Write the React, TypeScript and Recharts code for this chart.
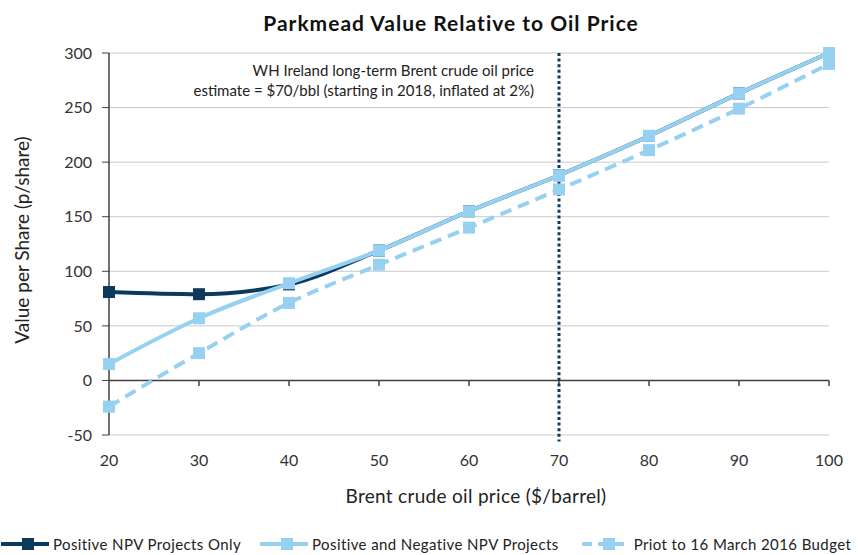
import { LineChart, Line, XAxis, YAxis, CartesianGrid, ReferenceLine } from 'recharts';

const prices = [20, 30, 40, 50, 60, 70, 80, 90, 100];
const positiveOnly = [81, 79, 88, 119, 155, 188, 224, 263, 300];
const posAndNeg = [15, 57, 89, 119, 155, 188, 224, 263, 300];
const priorBudget = [-24, 25, 71, 106, 140, 175, 211, 249, 290];
const yTicks = [-50, 0, 50, 100, 150, 200, 250, 300];
const estimatePrice = 70;

const seriesNames = [
  'Positive NPV Projects Only',
  'Positive and Negative NPV Projects',
  'Priot to 16 March 2016 Budget',
];

const navy = '#0b3a5c';
const sky = '#97d1f1';
const font = 'Lato, "Open Sans", sans-serif';

const data = prices.map((p, i) => ({
  price: p,
  positiveOnly: positiveOnly[i],
  posAndNeg: posAndNeg[i],
  priorBudget: priorBudget[i],
}));

const squareDot = (color: string) => (props: any) => {
  const { cx, cy, index } = props;
  if (cx == null || cy == null) return <g key={index} />;
  return <rect key={index} x={cx - 6} y={cy - 6} width={12} height={12} fill={color} />;
};

function LegendIcon({ color, dashed }: { color: string; dashed?: boolean }) {
  return (
    <svg width={50} height={14} style={{ marginRight: 3, flexShrink: 0 }}>
      <line
        x1={1}
        y1={7}
        x2={49}
        y2={7}
        stroke={color}
        strokeWidth={4}
        strokeDasharray={dashed ? '10 6' : undefined}
      />
      <rect x={22} y={1} width={12} height={12} fill={color} />
    </svg>
  );
}

export default function App() {
  const tickStyle = { fontSize: 16, fill: '#333', fontFamily: font };
  return (
    <div style={{ position: 'absolute', left: 0, top: 0, width: 858, height: 555, background: '#fff', fontFamily: font }}>
      <LineChart width={858} height={555} data={data} margin={{ top: 53, right: 29, bottom: 0, left: 39 }}>
        <CartesianGrid horizontal vertical={false} stroke="#c9c9c9" />
        <XAxis
          dataKey="price"
          type="number"
          domain={[20, 100]}
          ticks={prices}
          axisLine={false}
          tickLine={false}
          tickMargin={14}
          height={120}
          tick={tickStyle}
        />
        <YAxis
          type="number"
          domain={[-50, 300]}
          ticks={yTicks}
          width={70}
          axisLine={{ stroke: '#404040', strokeWidth: 1.5 }}
          tickLine={{ stroke: '#404040' }}
          tickSize={7}
          tickMargin={10}
          tick={tickStyle}
        />
        <ReferenceLine y={0} stroke="#404040" strokeWidth={1.5} />
        {prices.slice(1).map((p) => (
          <ReferenceLine
            key={p}
            segment={[
              { x: p, y: 0 },
              { x: p, y: -5 },
            ]}
            stroke="#404040"
            strokeWidth={1.5}
          />
        ))}
        <Line
          dataKey="positiveOnly"
          name={seriesNames[0]}
          type="monotone"
          stroke={navy}
          strokeWidth={4}
          dot={squareDot(navy)}
          isAnimationActive={false}
        />
        <Line
          dataKey="priorBudget"
          name={seriesNames[2]}
          type="monotone"
          stroke={sky}
          strokeWidth={4}
          strokeDasharray="12 7"
          dot={squareDot(sky)}
          isAnimationActive={false}
        />
        <Line
          dataKey="posAndNeg"
          name={seriesNames[1]}
          type="monotone"
          stroke={sky}
          strokeWidth={4}
          dot={squareDot(sky)}
          isAnimationActive={false}
        />
        <ReferenceLine
          segment={[
            { x: estimatePrice, y: 300 },
            { x: estimatePrice, y: -56 },
          ]}
          ifOverflow="visible"
          stroke={navy}
          strokeWidth={3}
          strokeDasharray="3 2.6"
        />
      </LineChart>

      <div style={{ position: 'absolute', left: 0, top: 10, width: 902, textAlign: 'center', fontSize: 21, letterSpacing: 1, fontWeight: 700, color: '#111' }}>
        Parkmead Value Relative to Oil Price
      </div>
      <div style={{ position: 'absolute', right: 858 - 534, top: 60, textAlign: 'right', fontSize: 15, lineHeight: '20px', color: '#222', whiteSpace: 'nowrap' }}>
        WH Ireland long-term Brent crude oil price
        <br />
        estimate = $70/bbl (starting in 2018, inflated at 2%)
      </div>
      <div
        style={{
          position: 'absolute',
          left: 21,
          top: 240,
          transform: 'translate(-50%, -50%) rotate(-90deg)',
          whiteSpace: 'nowrap',
          fontSize: 19,
          color: '#222',
        }}
      >
        Value per Share (p/share)
      </div>
      <div style={{ position: 'absolute', left: 0, top: 484, width: 952, textAlign: 'center', fontSize: 19, letterSpacing: 0.3, color: '#222' }}>
        Brent crude oil price ($/barrel)
      </div>
      <div
        style={{
          position: 'absolute',
          left: 0,
          top: 535,
          width: 'max-content',
          display: 'flex',
          alignItems: 'center',
          fontSize: 15,
          letterSpacing: 0.4,
          color: '#222',
          whiteSpace: 'nowrap',
        }}
      >
        <LegendIcon color={navy} />
        <span style={{ marginRight: 18 }}>{seriesNames[0]}</span>
        <LegendIcon color={sky} />
        <span style={{ marginRight: 22 }}>{seriesNames[1]}</span>
        <LegendIcon color={sky} dashed />
        <span>{seriesNames[2]}</span>
      </div>
    </div>
  );
}
